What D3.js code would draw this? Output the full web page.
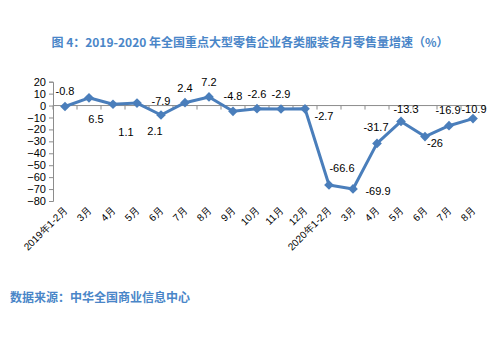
<!DOCTYPE html>
<html><head><meta charset="utf-8">
<script src="https://cdn.jsdelivr.net/npm/d3@7"></script>
<style>body{margin:0;background:#fff}svg{display:block}</style>
</head><body>
<script>
const categories = ["2019年1-2月","3月","4月","5月","6月","7月","8月","9月","10月","11月","12月","2020年1-2月","3月","4月","5月","6月","7月","8月"];
const values = [-0.8,6.5,1.1,2.1,-7.9,2.4,7.2,-4.8,-2.6,-2.9,-2.7,-66.6,-69.9,-31.7,-13.3,-26,-16.9,-10.9];
const yTicks = [20,10,0,-10,-20,-30,-40,-50,-60,-70,-80];
const title = "图 4：2019-2020 年全国重点大型零售企业各类服装各月零售量增速（%）";
const source = "数据来源：中华全国商业信息中心";
// label placement (dx, dy from point)
const labelOffset = [[0,-15],[7,21],[13,28],[18,28],[0,-14],[0,-15],[0,-15],[0,-15],[0,-15],[0,-15],[19,7],[13,-17],[25,2],[-1,-16],[5,-12],[10,7],[-1,-16],[1,-9]];

const W=500,H=337;
const svg=d3.select("body").append("svg").attr("width",W).attr("height",H);
const blue="#4a86c8", line="#4a7ebb", axisC="#8c8c8c";

svg.append("text").attr("x",250).attr("y",47).attr("text-anchor","middle")
  .attr("font-family","'Noto Sans CJK SC'").attr("font-weight","bold").attr("font-size",12)
  .attr("fill",blue).text(title);
svg.append("text").attr("x",10).attr("y",302)
  .attr("font-family","'Noto Sans CJK SC'").attr("font-weight","bold").attr("font-size",12)
  .attr("fill",blue).text(source);

const x=d3.scaleBand().domain(d3.range(categories.length)).range([53,485]);
const y=d3.scaleLinear().domain([-80,20]).range([201,81.7]);

// y axis
const ya=svg.append("g").attr("transform","translate(53,0)")
  .call(d3.axisLeft(y).tickValues(yTicks).tickSize(4).tickPadding(3).tickFormat(d3.format("d")));
ya.select(".domain").attr("stroke",axisC);
ya.selectAll(".tick line").attr("stroke",axisC);
ya.selectAll("text").attr("font-family","'Liberation Sans',Arial").attr("font-size",11).attr("fill","#000");

// x axis at zero
const xa=svg.append("g").attr("transform",`translate(0,${y(0)})`);
xa.append("line").attr("x1",53).attr("x2",485).attr("stroke",axisC);
xa.selectAll("line.t").data(d3.range(categories.length+1)).join("line").attr("class","t")
  .attr("x1",i=>53+i*x.step()).attr("x2",i=>53+i*x.step()).attr("y1",0).attr("y2",4).attr("stroke",axisC);

// x labels
svg.append("g").selectAll("text").data(categories).join("text")
  .attr("transform",(d,i)=>`translate(${x(i)+x.bandwidth()/2+3},${211}) rotate(-45)`)
  .attr("text-anchor","end").attr("font-family","'Liberation Sans',Arial").attr("font-size",10).attr("fill","#000")
  .text(d=>d);

const cx=i=>x(i)+x.bandwidth()/2;
svg.append("path").datum(values).attr("fill","none").attr("stroke",line).attr("stroke-width",3)
  .attr("stroke-linejoin","round")
  .attr("d",d3.line().x((d,i)=>cx(i)).y(d=>y(d)));
svg.append("g").selectAll("path").data(values).join("path")
  .attr("transform",(d,i)=>`translate(${cx(i)},${y(d)})`)
  .attr("d",d3.symbol(d3.symbolDiamond2,60)()).attr("fill",line);

svg.append("g").selectAll("text").data(values).join("text")
  .attr("x",(d,i)=>cx(i)+labelOffset[i][0]).attr("y",(d,i)=>y(d)+labelOffset[i][1])
  .attr("dy","0.35em").attr("text-anchor","middle")
  .attr("font-family","'Liberation Sans',Arial").attr("font-size",11).attr("fill","#000")
  .text(d=>d);
</script>
</body></html>
